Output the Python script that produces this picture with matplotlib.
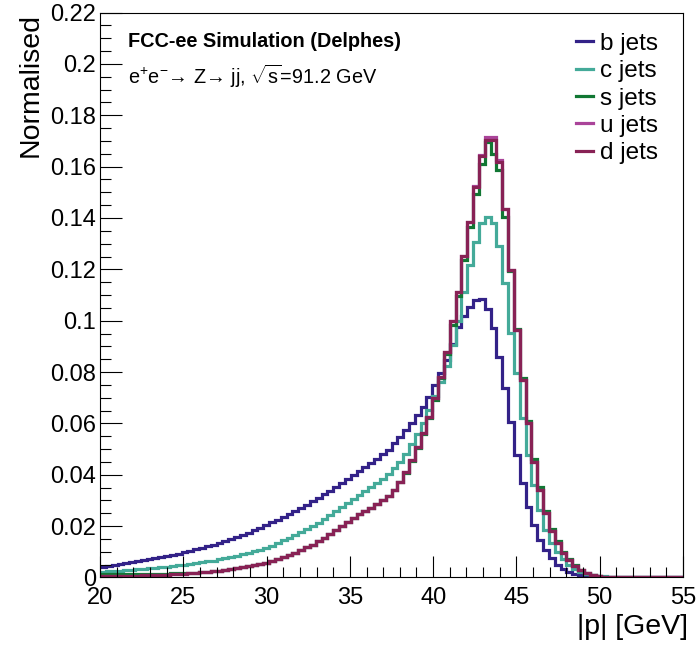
import matplotlib
matplotlib.use("Agg")
import matplotlib.pyplot as plt
import numpy as np
from matplotlib.ticker import MultipleLocator, FuncFormatter

plt.rcParams['font.family'] = ['Liberation Sans', 'DejaVu Sans']
plt.rcParams['mathtext.fontset'] = 'custom'
plt.rcParams['mathtext.rm'] = 'Liberation Sans'
plt.rcParams['mathtext.it'] = 'Liberation Sans:italic'
plt.rcParams['mathtext.bf'] = 'Liberation Sans:bold'

# histogram binning: 100 bins of 0.35 GeV between 20 and 55
p_lo, p_hi, n_bins = 20.0, 55.0, 100

b_jets = [
    0.0042, 0.0045, 0.0049, 0.0052, 0.0056, 0.0059, 0.0063, 0.0067, 0.0071, 0.0075,
    0.0079, 0.0083, 0.0088, 0.0093, 0.0098, 0.0104, 0.0110, 0.0115, 0.0122, 0.0128,
    0.0135, 0.0142, 0.0150, 0.0158, 0.0166, 0.0175, 0.0185, 0.0194, 0.0204, 0.0215,
    0.0225, 0.0236, 0.0248, 0.0259, 0.0271, 0.0284, 0.0297, 0.0310, 0.0324, 0.0338,
    0.0352, 0.0367, 0.0382, 0.0398, 0.0414, 0.0430, 0.0446, 0.0462, 0.0479, 0.0498,
    0.0523, 0.0549, 0.0575, 0.0600, 0.0633, 0.0665, 0.0704, 0.0750, 0.0795, 0.0847,
    0.0910, 0.0975, 0.1020, 0.1055, 0.1080, 0.1085, 0.1045, 0.0972, 0.0859, 0.0738,
    0.0607, 0.0477, 0.0369, 0.0276, 0.0205, 0.0146, 0.0107, 0.0076, 0.0050, 0.0033,
    0.0021, 0.0013, 0.0008, 0.0005, 0.0003, 0.0002, 0.0001, 0.0001, 0.0, 0.0,
    0.0, 0.0, 0.0, 0.0, 0.0, 0.0, 0.0, 0.0, 0.0, 0.0,
]

c_jets = [
    0.0023, 0.0024, 0.0026, 0.0027, 0.0028, 0.0030, 0.0032, 0.0034, 0.0036, 0.0038,
    0.0040, 0.0042, 0.0045, 0.0047, 0.0050, 0.0053, 0.0056, 0.0059, 0.0063, 0.0066,
    0.0070, 0.0074, 0.0079, 0.0084, 0.0090, 0.0096, 0.0102, 0.0108, 0.0115, 0.0124,
    0.0134, 0.0144, 0.0155, 0.0166, 0.0178, 0.0190, 0.0202, 0.0214, 0.0228, 0.0243,
    0.0258, 0.0273, 0.0289, 0.0305, 0.0320, 0.0336, 0.0352, 0.0368, 0.0385, 0.0404,
    0.0426, 0.0451, 0.0482, 0.0518, 0.0558, 0.0603, 0.0652, 0.0705, 0.0760, 0.0825,
    0.0905, 0.1000, 0.1110, 0.1215, 0.1305, 0.1380, 0.1405, 0.1380, 0.1290, 0.1148,
    0.0951, 0.0795, 0.0620, 0.0477, 0.0360, 0.0263, 0.0185, 0.0134, 0.0100, 0.0072,
    0.0050, 0.0034, 0.0022, 0.0014, 0.0009, 0.0006, 0.0004, 0.0002, 0.0001, 0.0,
    0.0, 0.0, 0.0, 0.0, 0.0, 0.0, 0.0, 0.0, 0.0, 0.0,
]

s_jets = [
    0.0015, 0.0014, 0.0014, 0.0013, 0.0013, 0.0013, 0.0013, 0.0013, 0.0013, 0.0014,
    0.0014, 0.0015, 0.0016, 0.0016, 0.0017, 0.0018, 0.0019, 0.0021, 0.0023, 0.0025,
    0.0027, 0.0030, 0.0033, 0.0037, 0.0040, 0.0044, 0.0048, 0.0052, 0.0057, 0.0063,
    0.0070, 0.0078, 0.0087, 0.0096, 0.0106, 0.0117, 0.0128, 0.0141, 0.0155, 0.0170,
    0.0185, 0.0200, 0.0216, 0.0232, 0.0246, 0.0259, 0.0272, 0.0286, 0.0301, 0.0318,
    0.0340, 0.0370, 0.0408, 0.0454, 0.0505, 0.0560, 0.0621, 0.0692, 0.0775, 0.0872,
    0.0985, 0.1095, 0.1235, 0.1365, 0.1495, 0.1610, 0.1695, 0.1650, 0.1585, 0.1405,
    0.1195, 0.0966, 0.0778, 0.0610, 0.0462, 0.0352, 0.0260, 0.0190, 0.0141, 0.0100,
    0.0072, 0.0049, 0.0031, 0.0018, 0.0010, 0.0006, 0.0003, 0.0002, 0.0001, 0.0,
    0.0, 0.0, 0.0, 0.0, 0.0, 0.0, 0.0, 0.0, 0.0, 0.0,
]

u_jets = [
    0.0005, 0.0005, 0.0006, 0.0006, 0.0006, 0.0007, 0.0007, 0.0008, 0.0008, 0.0009,
    0.0010, 0.0011, 0.0012, 0.0013, 0.0014, 0.0016, 0.0018, 0.0020, 0.0022, 0.0025,
    0.0027, 0.0030, 0.0033, 0.0037, 0.0040, 0.0044, 0.0048, 0.0052, 0.0057, 0.0063,
    0.0070, 0.0078, 0.0087, 0.0096, 0.0106, 0.0117, 0.0128, 0.0141, 0.0155, 0.0170,
    0.0185, 0.0200, 0.0216, 0.0232, 0.0246, 0.0259, 0.0272, 0.0286, 0.0301, 0.0318,
    0.0340, 0.0370, 0.0410, 0.0456, 0.0508, 0.0564, 0.0626, 0.0698, 0.0782, 0.0880,
    0.0997, 0.1110, 0.1252, 0.1386, 0.1525, 0.1645, 0.1716, 0.1716, 0.1625, 0.1434,
    0.1198, 0.0964, 0.0769, 0.0600, 0.0451, 0.0341, 0.0250, 0.0180, 0.0133, 0.0094,
    0.0068, 0.0046, 0.0029, 0.0017, 0.0009, 0.0005, 0.0003, 0.0002, 0.0001, 0.0,
    0.0, 0.0, 0.0, 0.0, 0.0, 0.0, 0.0, 0.0, 0.0, 0.0,
]

d_jets = [
    0.0005, 0.0005, 0.0006, 0.0006, 0.0006, 0.0007, 0.0007, 0.0008, 0.0008, 0.0009,
    0.0010, 0.0011, 0.0012, 0.0013, 0.0014, 0.0016, 0.0018, 0.0020, 0.0022, 0.0025,
    0.0027, 0.0030, 0.0033, 0.0037, 0.0040, 0.0044, 0.0048, 0.0052, 0.0057, 0.0063,
    0.0070, 0.0078, 0.0087, 0.0096, 0.0106, 0.0117, 0.0128, 0.0141, 0.0155, 0.0170,
    0.0185, 0.0200, 0.0216, 0.0232, 0.0246, 0.0259, 0.0272, 0.0286, 0.0301, 0.0318,
    0.0340, 0.0370, 0.0410, 0.0456, 0.0508, 0.0564, 0.0626, 0.0698, 0.0782, 0.0880,
    0.0997, 0.1110, 0.1252, 0.1386, 0.1522, 0.1640, 0.1705, 0.1705, 0.1620, 0.1434,
    0.1198, 0.0964, 0.0769, 0.0600, 0.0451, 0.0341, 0.0250, 0.0180, 0.0133, 0.0094,
    0.0068, 0.0046, 0.0029, 0.0017, 0.0009, 0.0005, 0.0003, 0.0002, 0.0001, 0.0,
    0.0, 0.0, 0.0, 0.0, 0.0, 0.0, 0.0, 0.0, 0.0, 0.0,
]

labels = ["b jets", "c jets", "s jets", "u jets", "d jets"]
colors = ["#332288", "#44AA99", "#117733", "#AA4499", "#882255"]
series = [b_jets, c_jets, s_jets, u_jets, d_jets]

edges = np.linspace(p_lo, p_hi, n_bins + 1)

fig = plt.figure(figsize=(6.98, 6.45), dpi=100)
ax = fig.add_axes([0.1433, 0.1047, 0.8352, 0.8758])

for vals, lab, col in zip(series, labels, colors):
    ax.stairs(vals, edges, baseline=None, color=col, lw=2.3, label=lab)

ax.set_xlim(20, 55)
ax.set_ylim(0, 0.22)
ax.xaxis.set_major_locator(MultipleLocator(5))
ax.xaxis.set_minor_locator(MultipleLocator(1))
ax.yaxis.set_major_locator(MultipleLocator(0.02))
ax.yaxis.set_minor_locator(MultipleLocator(0.005))
ax.yaxis.set_major_formatter(FuncFormatter(lambda v, _: '%g' % round(v, 4)))
ax.tick_params(which='both', direction='in', top=False, right=False,
               labelsize=17, width=0.8)
ax.tick_params(axis='x', which='major', length=15, pad=7)
ax.tick_params(axis='x', which='minor', length=7.5)
ax.tick_params(axis='y', which='major', length=16, pad=3)
ax.tick_params(axis='y', which='minor', length=8)
for sp in ax.spines.values():
    sp.set_linewidth(0.8)

ax.set_xlabel('|p| [GeV]', fontsize=20.5, loc='right')
ax.xaxis.set_label_coords(1.009, -0.064)
ax.set_ylabel('Normalised', fontsize=20.5, loc='top')
ax.yaxis.set_label_coords(-0.097, 1.0)

ax.text(0.048, 0.9496, 'FCC-ee Simulation (Delphes)', transform=ax.transAxes,
        fontsize=14.3, fontweight='bold', va='center', ha='left')
ax.text(0.048, 0.8876, 'e$^{+}$e$^{-}$\u2192 Z\u2192 jj, $\\sqrt{\\mathrm{s}}$=91.2 GeV',
        transform=ax.transAxes, fontsize=14.3, va='center', ha='left')

ax.legend(loc='upper left', bbox_to_anchor=(0.825, 0.949), bbox_transform=fig.transFigure,
          frameon=False, fontsize=17.5, handlelength=0.7, handletextpad=0.3,
          labelspacing=0.22, borderpad=0, borderaxespad=0)

fig.savefig("out.png", dpi=100)
